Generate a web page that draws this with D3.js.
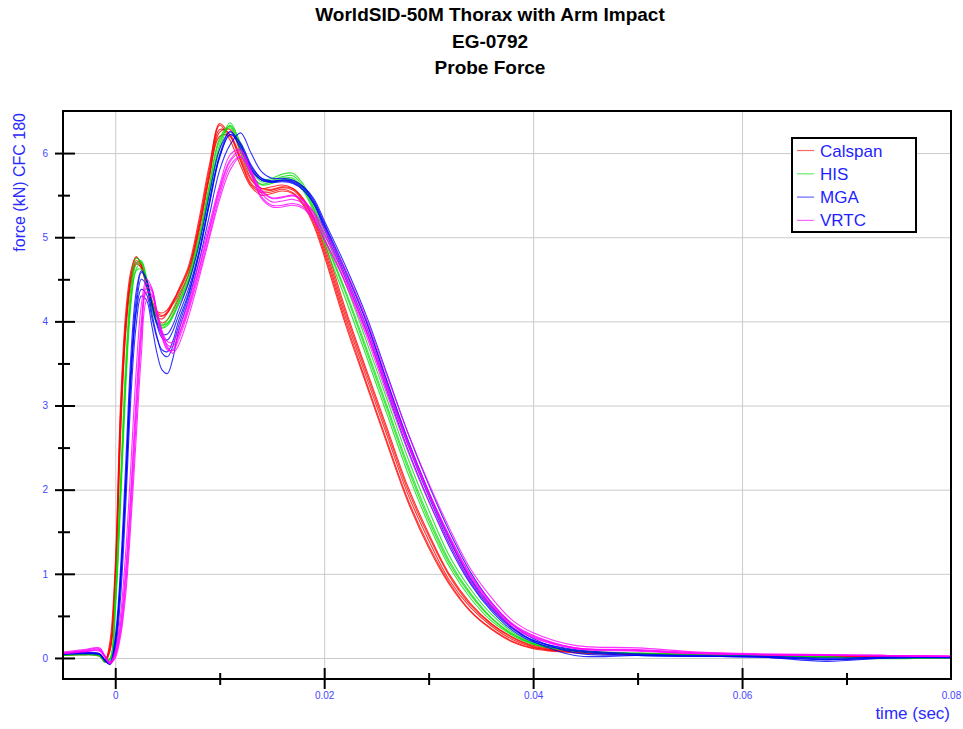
<!DOCTYPE html>
<html><head><meta charset="utf-8">
<script src="https://cdn.jsdelivr.net/npm/d3@7"></script>
<style>body{margin:0;background:#fff}svg{display:block;font-family:"Liberation Sans",Arial,sans-serif}</style>
</head><body><svg id="c" width="963" height="729"></svg>
<script>
const titleLines = ["WorldSID-50M Thorax with Arm Impact", "EG-0792", "Probe Force"];
const xTitle = "time (sec)";
const yTitle = "force (kN) CFC 180";
const labs = ["Calspan", "HIS", "MGA", "VRTC"];
const labColors = ["#ff0000", "#00e000", "#0000ff", "#ff00ff"];
const xTicks = [0, 0.02, 0.04, 0.06, 0.08];
const xMinorTicks = [0.01, 0.03, 0.05, 0.07];
const yTicks = [0, 1, 2, 3, 4, 5, 6];
const yMinorTicks = [0.5, 1.5, 2.5, 3.5, 4.5, 5.5];

const timeSec = [-0.005,-0.003,-0.0015,-0.001,-0.0005,
 0,0.0005,0.001,0.0015,0.002,0.0025,0.003,0.0035,0.004,0.0045,0.005,0.0055,
 0.006,0.007,0.008,0.009,0.010,0.011,0.012,0.013,0.014,0.015,0.016,0.017,0.018,0.019,
 0.020,0.022,0.024,0.026,0.028,0.030,0.032,0.034,0.036,0.038,0.040,
 0.044,0.050,0.056,0.062,0.068,0.074,0.080];

const calspanRuns = [
 [0.04,0.05,0.03,-0.03,0.15, 1.0,2.9,4.0,4.55,4.76,4.68,4.45,4.22,4.08,4.06,4.12,4.22, 4.33,4.6,5.15,5.8,6.35,6.2,5.92,5.64,5.55,5.56,5.59,5.56,5.43,5.2, 4.86,4.07,3.35,2.65,1.95,1.4,0.92,0.6,0.38,0.22,0.13, 0.07,0.05,0.04,0.02,0.02,0.01,0.01],
 [0.05,0.06,0.04,-0.02,0.1, 0.85,2.7,3.9,4.5,4.72,4.66,4.45,4.24,4.1,4.07,4.1,4.2, 4.3,4.55,5.05,5.7,6.25,6.28,6.0,5.7,5.58,5.57,5.6,5.58,5.46,5.24, 4.95,4.16,3.44,2.74,2.04,1.48,0.99,0.65,0.41,0.25,0.15, 0.08,0.05,0.03,0.02,0.01,0.02,0.01],
 [0.03,0.04,0.03,-0.05,0.2, 1.1,3.0,4.1,4.6,4.77,4.66,4.4,4.18,4.05,4.03,4.1,4.22, 4.36,4.65,5.2,5.85,6.33,6.15,5.85,5.6,5.5,5.52,5.55,5.52,5.38,5.14, 4.78,3.98,3.26,2.55,1.86,1.31,0.87,0.55,0.34,0.19,0.11, 0.06,0.04,0.03,0.02,0.02,0.01,0.0],
 [0.05,0.05,0.04,-0.03,0.12, 0.95,2.8,3.95,4.5,4.7,4.63,4.42,4.2,4.05,3.98,4.02,4.12, 4.25,4.55,5.1,5.75,6.28,6.22,5.95,5.68,5.58,5.6,5.62,5.58,5.45,5.22, 4.9,4.12,3.4,2.7,2.0,1.45,0.97,0.63,0.4,0.24,0.14, 0.08,0.05,0.04,0.03,0.02,0.01,0.01],
 [0.04,0.04,0.02,-0.04,0.08, 0.8,2.6,3.85,4.45,4.68,4.64,4.46,4.26,4.12,4.1,4.14,4.24, 4.35,4.62,5.1,5.72,6.2,6.2,5.9,5.62,5.53,5.54,5.57,5.53,5.4,5.17, 4.82,4.02,3.29,2.58,1.89,1.34,0.89,0.56,0.35,0.2,0.12, 0.07,0.05,0.03,0.02,0.01,0.01,0.01]
];
const hisRuns = [
 [0.03,0.04,0.03,-0.04,-0.02, 0.65,1.95,3.35,4.3,4.68,4.72,4.5,4.2,4.0,3.93,3.97,4.08, 4.22,4.5,4.95,5.55,6.1,6.36,6.1,5.8,5.66,5.68,5.72,5.73,5.6,5.35, 5.0,4.38,3.7,3.0,2.3,1.68,1.15,0.77,0.48,0.29,0.17, 0.09,0.05,0.04,0.02,0.01,0.0,0.01],
 [0.04,0.05,0.04,-0.03,0.0, 0.75,2.1,3.5,4.4,4.75,4.7,4.45,4.15,3.98,3.95,4.02,4.14, 4.28,4.55,5.0,5.62,6.18,6.32,6.05,5.75,5.62,5.64,5.68,5.68,5.55,5.3, 4.93,4.28,3.6,2.9,2.2,1.59,1.08,0.71,0.44,0.27,0.16, 0.08,0.05,0.03,0.02,0.01,0.0,0.0],
 [0.03,0.04,0.02,-0.05,-0.03, 0.55,1.8,3.2,4.2,4.62,4.7,4.52,4.25,4.05,3.96,3.98,4.06, 4.18,4.45,4.9,5.5,6.05,6.33,6.12,5.82,5.68,5.7,5.75,5.76,5.63,5.38, 5.06,4.46,3.78,3.08,2.38,1.76,1.21,0.82,0.52,0.31,0.18, 0.09,0.06,0.04,0.02,0.01,-0.01,0.01],
 [0.04,0.04,0.03,-0.04,-0.01, 0.6,1.9,3.3,4.25,4.6,4.62,4.42,4.16,3.98,3.92,3.95,4.05, 4.2,4.48,4.95,5.58,6.15,6.3,6.02,5.74,5.63,5.66,5.7,5.7,5.57,5.33, 4.98,4.35,3.66,2.96,2.26,1.64,1.12,0.75,0.47,0.28,0.17, 0.08,0.05,0.03,0.02,0.01,0.0,0.0]
];
const mgaRuns = [
 [0.05,0.06,0.05,-0.02,-0.06, 0.2,0.95,2.1,3.45,4.25,4.58,4.48,4.2,3.95,3.8,3.78,3.88, 4.05,4.38,4.82,5.42,5.98,6.26,6.1,5.84,5.7,5.67,5.68,5.66,5.58,5.42, 5.15,4.6,4.0,3.28,2.58,1.96,1.4,0.93,0.6,0.36,0.21, 0.09,0.04,0.02,0.02,-0.01,0.01,0.01],
 [0.05,0.05,0.04,-0.03,-0.07, 0.15,0.85,2.0,3.3,4.15,4.5,4.42,4.1,3.82,3.62,3.58,3.7, 3.92,4.3,4.78,5.38,5.95,6.22,6.12,5.86,5.7,5.66,5.67,5.65,5.56,5.4, 5.1,4.52,3.9,3.18,2.48,1.87,1.32,0.88,0.56,0.33,0.19, 0.08,0.03,0.02,0.01,-0.02,0.0,0.01],
 [0.04,0.05,0.04,-0.03,-0.08, 0.1,0.7,1.8,3.1,3.95,4.3,4.25,3.95,3.62,3.42,3.38,3.55, 3.85,4.25,4.7,5.25,5.8,6.1,6.24,6.0,5.78,5.7,5.7,5.68,5.6,5.46, 5.2,4.67,4.08,3.38,2.68,2.06,1.5,1.02,0.66,0.4,0.23, 0.06,0.03,0.02,0.01,-0.04,0.0,0.01],
 [0.06,0.07,0.05,-0.02,-0.05, 0.25,1.05,2.3,3.6,4.35,4.6,4.5,4.22,3.98,3.85,3.85,3.95, 4.12,4.45,4.9,5.5,6.05,6.25,6.05,5.8,5.68,5.66,5.68,5.67,5.6,5.44, 5.17,4.62,4.02,3.3,2.6,1.98,1.42,0.95,0.62,0.37,0.21, 0.1,0.05,0.03,0.02,0.0,0.01,0.01],
 [0.05,0.06,0.04,-0.03,-0.07, 0.18,0.9,2.05,3.35,4.1,4.38,4.32,4.05,3.8,3.66,3.64,3.76, 3.98,4.33,4.8,5.4,5.96,6.22,6.08,5.82,5.68,5.65,5.66,5.64,5.56,5.4, 5.13,4.56,3.95,3.24,2.54,1.92,1.36,0.9,0.58,0.35,0.2, 0.03,0.03,0.02,0.01,-0.02,0.0,0.0]
];
const vrtcRuns = [
 [0.06,0.09,0.11,0.02,-0.06, 0.05,0.4,1.05,2.0,3.1,4.0,4.45,4.38,4.1,3.85,3.72,3.7, 3.82,4.18,4.62,5.1,5.58,5.92,6.03,5.78,5.55,5.46,5.47,5.49,5.43,5.28, 5.05,4.55,3.95,3.26,2.58,1.98,1.45,0.98,0.65,0.4,0.26, 0.12,0.1,0.06,0.04,0.04,0.03,0.02],
 [0.05,0.08,0.08,0.01,-0.07, 0.02,0.3,0.85,1.75,2.8,3.8,4.35,4.32,4.08,3.82,3.68,3.65, 3.76,4.12,4.55,5.02,5.5,5.85,5.96,5.74,5.48,5.38,5.38,5.4,5.36,5.22, 4.98,4.46,3.84,3.14,2.46,1.86,1.35,0.91,0.6,0.37,0.24, 0.11,0.08,0.05,0.04,0.03,0.03,0.02],
 [0.07,0.1,0.12,0.03,-0.05, 0.08,0.5,1.25,2.3,3.4,4.2,4.5,4.4,4.12,3.88,3.76,3.75, 3.88,4.22,4.68,5.15,5.62,5.98,6.04,5.8,5.56,5.47,5.48,5.5,5.44,5.3, 5.1,4.62,4.04,3.36,2.68,2.08,1.54,1.06,0.72,0.45,0.3, 0.15,0.12,0.07,0.05,0.04,0.03,0.02],
 [0.05,0.07,0.09,0.02,-0.06, 0.0,0.25,0.75,1.6,2.6,3.6,4.25,4.3,4.1,3.86,3.7,3.62, 3.7,4.05,4.5,4.98,5.45,5.8,5.95,5.76,5.46,5.36,5.36,5.38,5.34,5.2, 4.98,4.48,3.88,3.2,2.55,1.96,1.44,0.99,0.66,0.41,0.27, 0.12,0.09,0.05,0.04,0.03,0.02,0.02],
 [0.06,0.08,0.1,0.02,-0.06, 0.04,0.35,0.95,1.9,2.95,3.9,4.4,4.36,4.06,3.8,3.66,3.66, 3.8,4.15,4.6,5.08,5.55,5.9,6.0,5.77,5.52,5.42,5.43,5.45,5.4,5.25, 5.03,4.52,3.9,3.22,2.54,1.94,1.41,0.96,0.63,0.39,0.25, 0.12,0.09,0.06,0.04,0.03,0.03,0.02]
];
const labRuns = [calspanRuns, hisRuns, mgaRuns, vrtcRuns];

const svg = d3.select("#c");
const L = 63, R = 951, T = 111, B = 679;
const x = d3.scaleLinear().domain([-0.005, 0.08]).range([L, R]);
const y = d3.scaleLinear().domain([-0.25, 6.5]).range([B, T]);
const tickBlue = "#4545ff";
const titleBlue = "#2a2aff";

// titles
svg.append("g").selectAll("text").data(titleLines).join("text")
  .attr("x", 490).attr("y", (d, i) => 21 + i * 26.5)
  .attr("text-anchor", "middle").attr("font-weight", "bold")
  .attr("font-size", 19).attr("fill", "#000").text(d => d);

// grid
svg.append("g").attr("transform", `translate(0,${B})`)
  .call(d3.axisBottom(x).tickValues(xTicks.filter(v => v < 0.08)).tickSize(-(B - T)).tickFormat(""))
  .call(g => g.select(".domain").remove())
  .call(g => g.selectAll("line").attr("stroke", "#cbcbcb").attr("stroke-width", 1));
svg.append("g").attr("transform", `translate(${L},0)`)
  .call(d3.axisLeft(y).tickValues(yTicks).tickSize(-(R - L)).tickFormat(""))
  .call(g => g.select(".domain").remove())
  .call(g => g.selectAll("line").attr("stroke", "#cbcbcb").attr("stroke-width", 1));

// curves
svg.append("clipPath").attr("id", "clip").append("rect")
  .attr("x", L).attr("y", T).attr("width", R - L).attr("height", B - T);
const line = d3.line().x((d, i) => x(timeSec[i])).y(d => y(d)).curve(d3.curveCatmullRom.alpha(0.5));
const cg = svg.append("g").attr("clip-path", "url(#clip)");
labRuns.forEach((runs, li) => {
  cg.append("g").selectAll("path").data(runs).join("path")
    .attr("d", line).attr("fill", "none")
    .attr("stroke", labColors[li]).attr("stroke-width", 1.1).attr("stroke-opacity", 0.8);
});

// frame
svg.append("rect").attr("x", L).attr("y", T).attr("width", R - L).attr("height", B - T)
  .attr("fill", "none").attr("stroke", "#000").attr("stroke-width", 2);

// ticks
function styleAxis(g) {
  g.select(".domain").remove();
  g.selectAll("line").attr("stroke", "#000").attr("stroke-width", 2);
  g.selectAll("text").attr("fill", tickBlue).attr("font-size", 10).attr("font-family", "'Liberation Sans',Arial,sans-serif");
}
svg.append("g").attr("transform", `translate(${L},0)`)
  .call(d3.axisLeft(y).tickValues(yTicks).tickSize(8).tickPadding(7).tickFormat(d3.format("d"))).call(styleAxis);
svg.append("g").attr("transform", `translate(${L},0)`)
  .call(d3.axisRight(y).tickValues(yTicks).tickSize(12).tickFormat("")).call(styleAxis);
svg.append("g").attr("transform", `translate(${L},0)`)
  .call(d3.axisLeft(y).tickValues(yMinorTicks).tickSize(5).tickFormat("")).call(styleAxis);
svg.append("g").attr("transform", `translate(${L},0)`)
  .call(d3.axisRight(y).tickValues(yMinorTicks).tickSize(7).tickFormat("")).call(styleAxis);

const xfmt = d => d === 0 ? "0" : d3.format(".2f")(d);
svg.append("g").attr("transform", `translate(0,${B})`)
  .call(d3.axisBottom(x).tickValues(xTicks).tickSize(10).tickPadding(3).tickFormat(xfmt)).call(styleAxis)
  .call(g => g.selectAll(".tick").filter(d => d === 0.08).select("line").remove());
svg.append("g").attr("transform", `translate(0,${B})`)
  .call(d3.axisTop(x).tickValues(xTicks.filter(v => v < 0.08)).tickSize(11).tickFormat("")).call(styleAxis);
svg.append("g").attr("transform", `translate(0,${B})`)
  .call(d3.axisBottom(x).tickValues(xMinorTicks).tickSize(6).tickFormat("")).call(styleAxis);
svg.append("g").attr("transform", `translate(0,${B})`)
  .call(d3.axisTop(x).tickValues(xMinorTicks).tickSize(6).tickFormat("")).call(styleAxis);

// axis titles
svg.append("text").attr("x", 950).attr("y", 719).attr("text-anchor", "end")
  .attr("font-size", 17).attr("fill", titleBlue).text(xTitle);
svg.append("text").attr("transform", "translate(25,113) rotate(-90)").attr("text-anchor", "end")
  .attr("font-size", 16).attr("fill", titleBlue).text(yTitle);

// legend
const lg = svg.append("g");
lg.append("rect").attr("x", 792).attr("y", 138).attr("width", 124).attr("height", 94)
  .attr("fill", "#fff").attr("stroke", "#000").attr("stroke-width", 2);
const items = lg.selectAll("g.item").data(labs).join("g").attr("class", "item")
  .attr("transform", (d, i) => `translate(0,${150.5 + i * 23.3})`);
items.append("line").attr("x1", 797).attr("x2", 814).attr("y1", 0).attr("y2", 0)
  .attr("stroke", (d, i) => labColors[i]).attr("stroke-width", 1.2).attr("stroke-opacity", 0.6);
items.append("text").attr("x", 820).attr("y", 6).attr("font-size", 17)
  .attr("fill", "#1f1fff").text(d => d);
</script>
</body></html>
